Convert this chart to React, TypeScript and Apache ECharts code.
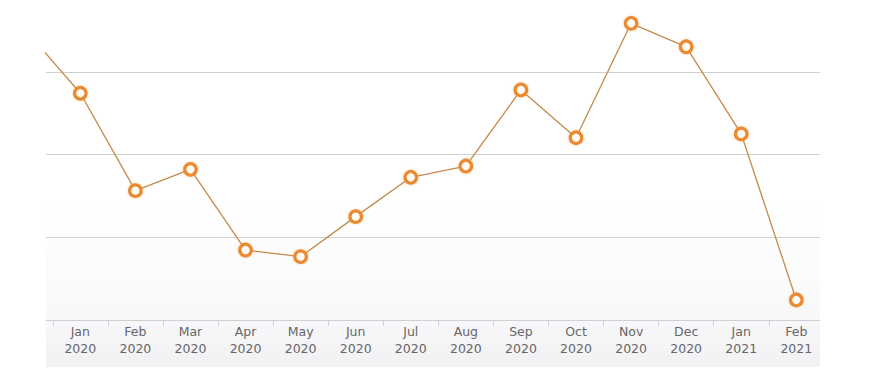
import React, { useEffect, useRef } from "react";
import * as echarts from "echarts";

const months = ["Jan", "Feb", "Mar", "Apr", "May", "Jun", "Jul", "Aug", "Sep", "Oct", "Nov", "Dec", "Jan", "Feb"];
const years = ["2020", "2020", "2020", "2020", "2020", "2020", "2020", "2020", "2020", "2020", "2020", "2020", "2021", "2021"];
// value of the month before the first label (Dec 2019), drawn clipped at the left edge
const previousValue = 175.5;
const values = [137.1, 78.2, 91.1, 42.3, 38.3, 62.5, 86.3, 93.1, 139.1, 110.2, 179.4, 165.2, 112.5, 12.1];

export default function App() {
  const ref = useRef<HTMLDivElement>(null);
  useEffect(() => {
    if (!ref.current) return;
    const chart = echarts.init(ref.current, null, { renderer: "svg" });
    const seriesData: number[][] = [[-1, previousValue]];
    values.forEach((v, i) => seriesData.push([i, v]));
    const tickVals = months.map((_, i) => i - 0.5);
    const labelVals = months.map((_, i) => i);
    chart.setOption({
      animation: false,
      backgroundColor: "#ffffff",
      graphic: [
        {
          type: "rect",
          z: -10,
          silent: true,
          shape: { x: 46, y: 200, width: 774, height: 120 },
          style: {
            fill: new echarts.graphic.LinearGradient(0, 0, 0, 1, [
              { offset: 0, color: "rgba(250,250,252,0)" },
              { offset: 1, color: "rgba(248,248,250,1)" },
            ]),
          },
        },
        {
          type: "rect",
          z: -10,
          silent: true,
          shape: { x: 46, y: 320, width: 774, height: 47 },
          style: {
            fill: new echarts.graphic.LinearGradient(0, 0, 0, 1, [
              { offset: 0, color: "#f8f8fa" },
              { offset: 1, color: "#f1f1f4" },
            ]),
          },
        },
      ],
      grid: { left: 46, right: 51, top: 0, bottom: 54, containLabel: false },
      xAxis: {
        type: "value",
        min: -0.623,
        max: 13.43,
        splitLine: { show: false },
        axisLine: { show: true, lineStyle: { color: "#cfcfd4", width: 1 } },
        axisTick: {
          show: true,
          customValues: tickVals,
          length: 6,
          inside: false,
          lineStyle: { color: "#cfcfd4" },
        },
        axisLabel: {
          show: true,
          customValues: labelVals,
          formatter: (v: number) => {
            const i = Math.round(v);
            return months[i] + "\n" + years[i];
          },
          color: "#666666",
          fontSize: 12.5,
          fontFamily: "DejaVu Sans",
          lineHeight: 17,
          margin: 3,
        },
      },
      yAxis: {
        type: "value",
        min: 0,
        max: 193.5,
        interval: 50,
        axisLine: { show: false },
        axisTick: { show: false },
        axisLabel: { show: false },
        splitLine: {
          show: true,
          showMinLine: false,
          showMaxLine: false,
          lineStyle: { color: "#d0d0d0", width: 1 },
        },
      },
      series: [
        {
          type: "line",
          data: seriesData,
          clip: true,
          symbol: "circle",
          symbolSize: 11.5,
          showAllSymbol: true,
          lineStyle: { color: "#c48a4c", width: 1.3 },
          itemStyle: {
            color: "#fffaf2",
            borderColor: "#ea8a30",
            borderWidth: 3.2,
            shadowColor: "rgba(240,140,40,0.35)",
            shadowBlur: 3,
          },
        },
      ],
    });
    return () => chart.dispose();
  }, []);
  return (
    <div
      ref={ref}
      style={{ position: "fixed", left: 0, top: 0, width: 871, height: 374 }}
    />
  );
}
